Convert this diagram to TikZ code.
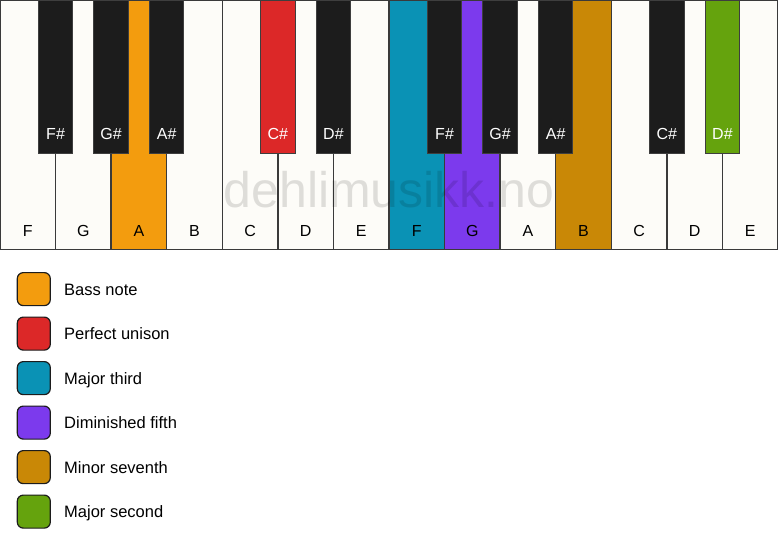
\documentclass[tikz,border=0pt]{standalone}
\usepackage{fontspec}
\setmainfont{Liberation Sans}
\definecolor{keywhite}{HTML}{FDFCF8}
\definecolor{keyblack}{HTML}{1C1C1C}
\definecolor{keyline}{HTML}{3A3A3A}
\definecolor{cbass}{HTML}{F39C0E}
\definecolor{cunison}{HTML}{DC2828}
\definecolor{cthird}{HTML}{0A92B5}
\definecolor{cfifth}{HTML}{7C3AED}
\definecolor{cseventh}{HTML}{C98806}
\definecolor{csecond}{HTML}{65A30D}
\begin{document}
\begin{tikzpicture}[x=1pt,y=-1pt,
 whitekey/.style={draw=keyline, line width=1.3pt, minimum width=55.571pt, minimum height=249pt, inner sep=0pt, outer sep=0pt, anchor=north west},
 blackkey/.style={draw=keyblack!85!white, line width=1pt, minimum width=34.5pt, minimum height=153pt, inner sep=0pt, outer sep=0pt, anchor=north},
 wlabel/.style={font=\fontsize{16}{16}\selectfont, text=black, anchor=base, inner sep=0pt},
 blabel/.style={font=\fontsize{16}{16}\selectfont, text=white, anchor=base, inner sep=0pt},
 legbox/.style={draw=keyblack, line width=1.2pt, rounded corners=6pt, minimum size=33pt, inner sep=0pt, anchor=north west},
 legtext/.style={font=\fontsize{16.5}{16.5}\selectfont, text=black, anchor=base west, inner sep=0pt},
]
\useasboundingbox[fill=white] (0,0) rectangle (778,550);
% white keys
\foreach \i/\n/\c in {0/F/keywhite,1/G/keywhite,2/A/cbass,3/B/keywhite,4/C/keywhite,5/D/keywhite,6/E/keywhite,7/F/cthird,8/G/cfifth,9/A/keywhite,10/B/cseventh,11/C/keywhite,12/D/keywhite,13/E/keywhite}{
  \node[whitekey, fill=\c] (w\i) at (\i*55.571, 0.5) {};
  \node[wlabel] (wl\i) at (\i*55.571+27.786, 236) {\n};
}
% watermark
\node[font=\fontsize{50}{50}\selectfont, text=black, text opacity=0.12, anchor=base, inner sep=0pt] (wm) at (389, 207) {dehlimusikk.no};
% black keys
\foreach \i/\n/\c in {1/F\#/keyblack,2/G\#/keyblack,3/A\#/keyblack,5/C\#/cunison,6/D\#/keyblack,8/F\#/keyblack,9/G\#/keyblack,10/A\#/keyblack,12/C\#/keyblack,13/D\#/csecond}{
  \node[blackkey, fill=\c] (b\i) at (\i*55.571, 0) {};
  \node[blabel] (bl\i) at (\i*55.571, 139) {\n};
}
% legend
\foreach \k/\c/\t in {0/cbass/Bass note,1/cunison/Perfect unison,2/cthird/Major third,3/cfifth/Diminished fifth,4/cseventh/Minor seventh,5/csecond/Major second}{
  \node[legbox, fill=\c] (lb\k) at (16.7, 272+\k*44.5) {};
  \node[legtext] (lt\k) at (64, 295+\k*44.5) {\t};
}
\end{tikzpicture}
\end{document}
